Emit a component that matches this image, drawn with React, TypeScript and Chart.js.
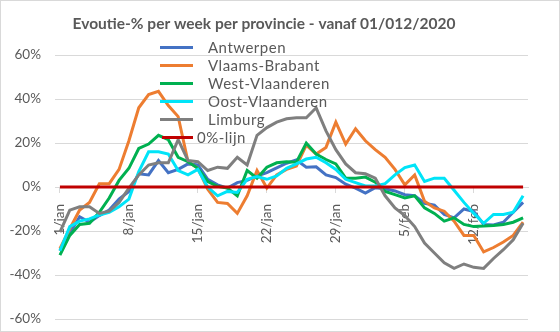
import React, { useEffect, useRef } from 'react';
import { Chart, registerables } from 'chart.js';

Chart.register(...registerables);

const TITLE = 'Evoutie-% per week per provincie - vanaf 01/012/2020';

const dates = [
  '1/jan', '2/jan', '3/jan', '4/jan', '5/jan', '6/jan', '7/jan', '8/jan', '9/jan', '10/jan',
  '11/jan', '12/jan', '13/jan', '14/jan', '15/jan', '16/jan', '17/jan', '18/jan', '19/jan', '20/jan',
  '21/jan', '22/jan', '23/jan', '24/jan', '25/jan', '26/jan', '27/jan', '28/jan', '29/jan', '30/jan',
  '31/jan', '1/feb', '2/feb', '3/feb', '4/feb', '5/feb', '6/feb', '7/feb', '8/feb', '9/feb',
  '10/feb', '11/feb', '12/feb', '13/feb', '14/feb', '15/feb', '16/feb', '17/feb',
];

const shownTicks = ['1/jan', '8/jan', '15/jan', '22/jan', '29/jan', '5/feb', '12/feb'];

const yTicks = [-60, -40, -20, 0, 20, 40, 60];

const antwerpen = [
  -29, -21, -13.5, -16, -13, -10.5, -5.5, -2, 6, 5.5, 12, 6.5, 8, 10.5, 10, 3.5, 1, -0.5, 2, 3,
  5, 6.5, 8.7, 10.8, 12.3, 9, 9.2, 5.5, 4.3, 1.3, -0.5, -2.8, -0.3, -0.8, -1.8, -3.5, -4, -7.4, -8.2, -12.5,
  -14, -10, -11.2, -17, -17.3, -16, -11.5, -7,
];

const vlaamsBrabant = [
  -28, -19, -10.5, -7, 1.5, 1.5, 8, 21, 36, 42, 43.5, 37, 32, 11.5, 8.5, -1, -7, -7.5, -12, -4,
  7.5, -0.5, 5.5, 8, 9.5, 19, 15, 18, 29.5, 19.5, 26.5, 21, 17, 13.5, 8, 1, 5.5, -6.5, -9.5, -11,
  -15.5, -22, -22, -29.5, -27.5, -25, -22, -16,
];

const westVlaanderen = [
  -31, -22, -17, -16.5, -11.5, -5, 3, 8.5, 17.5, 19.5, 23.5, 21.5, 13.5, 11.5, 8.5, 2.5, 0.3, -0.5, -4, 7.5,
  4, 9, 11, 11.5, 11.3, 20, 15, 12.5, 10.5, 4, 4, 4.5, 2.2, -2, -3.5, -5, -4, -9.5, -12, -15.5,
  -14, -17, -18, -17.7, -17.5, -17, -16, -14,
];

const oostVlaanderen = [
  -29, -18, -15.5, -14.5, -12.7, -11.5, -9, -5.5, 7, 16, 16, 15, 7.5, 5.5, 8, 0, -4, -2, -2.5, 3.5,
  4.7, 3.5, 5, 8.5, 10.5, 12.7, 13.5, 11, 8, 3.5, 2, 0.5, 0.5, 1.5, 5.5, 8.8, 10, 2.5, 4, 4,
  -1.5, -7, -12, -16.5, -12.5, -12.5, -11.5, -4,
];

const limburg = [
  -20.5, -10.5, -9, -9, -12, -11, -7, -0.5, 5.5, 10, 11, 11, 21.5, 12, 11.5, 7.5, 9, 8.5, 13.5, 10,
  23.5, 27, 29.5, 31, 31.5, 31.5, 36, 25.5, 17, 10.5, 6.5, 6, 4, -4, -9.5, -13, -18, -25.5, -30, -34.5,
  -37, -35, -36.5, -37, -32.5, -28.5, -24, -16.5,
];

const nulLijn = [
  0, 0, 0, 0, 0, 0, 0, 0, 0, 0, 0, 0, 0, 0, 0, 0, 0, 0, 0, 0,
  0, 0, 0, 0, 0, 0, 0, 0, 0, 0, 0, 0, 0, 0, 0, 0, 0, 0, 0, 0,
  0, 0, 0, 0, 0, 0, 0, 0,
];

const seriesNames = ['Antwerpen', 'Vlaams-Brabant', 'West-Vlaanderen', 'Oost-Vlaanderen', 'Limburg', '0%-lijn'];
const seriesData = [antwerpen, vlaamsBrabant, westVlaanderen, oostVlaanderen, limburg, nulLijn];
const seriesColors = ['#4472C4', '#ED7D31', '#00B050', '#00E4F8', '#7F7F7F', '#C00000'];

const TEXT = '#595959';
const GRID = '#d9d9d9';
const FONT = 'Lato, "Open Sans", sans-serif';

export default function App() {
  const ref = useRef<HTMLCanvasElement | null>(null);

  useEffect(() => {
    if (!ref.current) return;
    const chart = new Chart(ref.current, {
      type: 'line',
      data: {
        labels: dates,
        datasets: seriesNames.map((name, i) => ({
          label: name,
          data: seriesData[i],
          borderColor: seriesColors[i],
          backgroundColor: seriesColors[i],
          borderWidth: 3,
          pointRadius: 0,
          tension: 0,
          fill: false,
          order: seriesNames.length - i,
        })),
      },
      options: {
        animation: false,
        responsive: false,
        maintainAspectRatio: false,
        layout: { padding: { left: 0, right: 32, top: 0, bottom: 13 } },
        plugins: {
          legend: { display: false },
          tooltip: { enabled: false },
          title: {
            display: true,
            text: TITLE,
            color: TEXT,
            font: { family: FONT, size: 15.5, weight: 'bold', lineHeight: 1 },
            padding: { top: 16, bottom: 23.5 },
          },
        },
        scales: {
          x: {
            type: 'category',
            position: { y: 0 },
            offset: true,
            grid: {
              drawOnChartArea: false,
              drawTicks: true,
              tickLength: 5,
              color: (ctx: any) => (ctx.index % 7 === 0 ? GRID : 'rgba(0,0,0,0)'),
            },
            border: { display: true, color: GRID, width: 1 },
            ticks: {
              autoSkip: false,
              minRotation: 90,
              maxRotation: 90,
              padding: 12,
              color: TEXT,
              font: { family: FONT, size: 13.5 },
              callback: (_v: any, i: number) => (shownTicks.includes(dates[i]) ? dates[i] : ''),
            },
          },
          y: {
            min: yTicks[0],
            max: yTicks[yTicks.length - 1],
            afterFit: (s: any) => {
              s.width = 55;
              s.paddingTop = 0;
              s.paddingBottom = 0;
            },
            afterBuildTicks: (s: any) => { s.ticks = yTicks.map((v) => ({ value: v })); },
            grid: { color: GRID, drawTicks: false, lineWidth: 1 },
            border: { display: false },
            ticks: {
              padding: 14,
              color: TEXT,
              font: { family: FONT, size: 13.5 },
              callback: (v: any) => `${v}%`,
            },
          },
        },
      },
    });
    return () => chart.destroy();
  }, []);

  return (
    <div style={{ position: 'fixed', left: 0, top: 0, width: 560, height: 332, background: '#fff' }}>
      <canvas ref={ref} width={560} height={332} style={{ display: 'block' }} />
      <div
        style={{
          position: 'absolute', left: 160, top: 38, fontFamily: FONT, fontSize: 15,
          color: TEXT, letterSpacing: 0.5, lineHeight: '18px',
        }}
      >
        {seriesNames.map((name, i) => {
          const last = i === seriesNames.length - 1;
          return (
            <div key={name} style={{ display: 'flex', alignItems: 'center', height: 18, whiteSpace: 'nowrap' }}>
              <span
                style={{
                  display: 'inline-block', width: last ? 31 : 33, height: 3, marginLeft: last ? 2 : 0,
                  marginRight: last ? 4 : 15, background: seriesColors[i],
                }}
              />
              <span>{name}</span>
            </div>
          );
        })}
      </div>
      <div
        style={{
          position: 'absolute', left: 0, top: 0, width: 560, height: 332, boxSizing: 'border-box',
          border: `1px solid ${GRID}`, pointerEvents: 'none',
        }}
      />
    </div>
  );
}
